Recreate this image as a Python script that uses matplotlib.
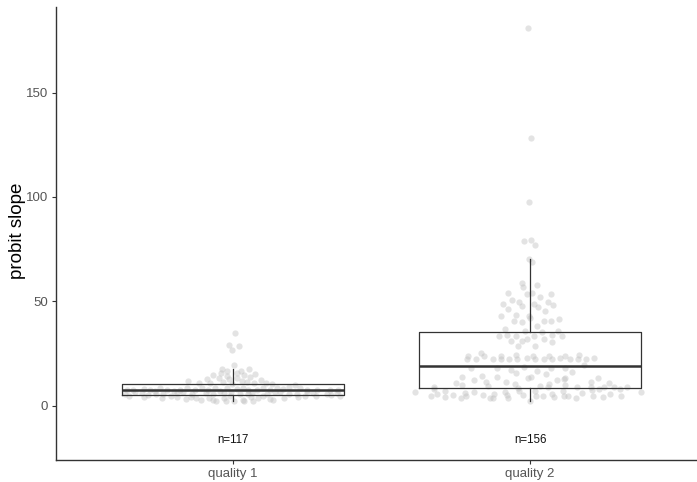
import numpy as np
import matplotlib
matplotlib.use("Agg")
import matplotlib.pyplot as plt

plt.rcParams['font.family'] = ['Liberation Sans', 'DejaVu Sans']

groups = ["quality 1", "quality 2"]

# quality 1: probit slope values and horizontal jitter
q1_slope = [34.8, 29.2, 28.7, 26.8, 19.4,
            17.6, 17.7, 16.4, 16.4, 14.8, 15.6, 15.6, 14.8, 15.1, 12.8, 13.2,
            12.8, 13.2, 13.7, 12.4, 10.9, 10.9, 11.2, 10.5, 11.5, 10.9, 10.4,
            11.8, 11.0, 14.2, 12.0,
            7.6, 7.3, 7.6, 6.9, 8.5, 7.6, 6.9, 7.6, 8.5, 7.3, 8.5, 7.6, 8.5, 6.9,
            8.5, 8.0, 8.5, 7.6, 7.3, 8.5, 7.6, 8.5, 8.0, 8.5, 7.6, 7.3, 7.6, 7.3,
            8.2, 9.0, 9.8,
            5.8, 6.1, 5.8, 6.1, 5.8, 6.1, 5.4, 6.4, 5.8, 6.1, 5.8, 6.4, 5.8, 6.1,
            5.8, 6.1, 5.1,
            6.5, 5.6, 6.6, 6.0, 5.5, 6.6, 5.4, 6.5, 5.3,
            3.8, 3.2, 3.5, 2.6, 2.9, 2.2, 3.5, 2.1, 2.1, 2.9, 2.3, 2.4, 3.5, 3.2,
            2.9, 4.2, 4.5, 4.1,
            4.8, 4.4, 4.6, 4.3, 3.9, 4.6, 4.0, 4.7, 3.6, 4.8, 4.5]
q1_jitter = [0.008, -0.015, 0.019, -0.003, 0.003,
             -0.038, 0.053, -0.021, 0.026, -0.066, -0.042, 0.012, 0.037, 0.075,
             -0.089, -0.048, -0.013, 0.015, 0.057, 0.093, -0.116, -0.078, -0.033,
             -0.002, 0.046, 0.072, 0.132,
             -0.15, 0.11, -0.02, 0.03,
             -0.358, -0.336, -0.28, -0.263, -0.246, -0.223, -0.199, -0.178, -0.154,
             -0.128, -0.106, -0.083, -0.061, -0.044, -0.021, 0.012, 0.032, 0.052,
             0.08, 0.102, 0.124, 0.147, 0.167, 0.226, 0.248, 0.282, 0.326, 0.355,
             -0.30, 0.19, 0.21,
             -0.364, -0.308, -0.235, -0.19, -0.139, -0.091, -0.068, -0.008, 0.023,
             0.063, 0.113, 0.158, 0.214, 0.27, 0.315, 0.349, -0.285,
             -0.33, -0.26, -0.17, -0.03, 0.05, 0.14, 0.19, 0.25, 0.33,
             -0.24, -0.158, -0.125, -0.109, -0.066, -0.057, -0.03, -0.024, 0.003,
             0.032, 0.037, 0.066, 0.085, 0.124, 0.136, 0.22, 0.243, -0.19,
             -0.35, -0.30, -0.21, -0.14, -0.08, -0.01, 0.06, 0.10, 0.17, 0.28, 0.36]

# quality 2
q2_slope = [181.0, 128.0, 97.5,
            79.0, 79.4, 77.0, 70.3, 69.0,
            58.7, 57.1, 57.9, 53.9, 53.6, 53.9, 53.6, 50.7, 49.9, 52.0, 49.9, 48.7,
            47.8, 48.8, 47.5, 48.3, 46.4, 45.5, 43.1, 43.5, 43.1, 42.0, 40.8, 40.2,
            40.8, 40.7, 41.5, 38.3,
            36.8, 35.6, 35.3, 35.6,
            33.2, 34.0, 33.2, 32.2, 33.2, 32.2, 34.0, 33.2,
            31.1, 31.1, 30.3, 28.7, 28.7,
            23.9, 22.3, 22.6, 25.2, 23.9, 22.6, 23.9, 22.3, 22.6, 24.4, 22.3, 23.1,
            23.9, 22.3, 22.6, 23.9, 22.6, 23.1, 23.9, 22.6, 22.6, 24.4, 22.6, 23.1,
            19.5,
            18.0, 17.2, 18.5, 16.7, 18.0, 17.9, 16.1,
            13.9, 14.3, 13.9, 15.6, 13.2, 14.0, 15.3, 13.5, 13.0,
            10.8, 9.9, 11.6, 9.6, 11.2, 10.5, 8.6, 9.6, 10.5, 10.0, 11.6, 13.5, 10.7,
            9.2, 7.9, 18.2,
            8.9, 8.9, 8.9, 8.9, 12.5, 12.2,
            6.7, 4.8, 5.4, 7.2, 4.1, 5.3, 3.7, 6.1, 4.5, 6.4, 5.1, 3.7, 5.7, 3.5,
            6.7, 5.1, 3.8, 7.0, 5.3, 2.5, 7.0, 4.9, 4.8, 5.7, 4.3, 7.2, 4.9, 4.6,
            3.7, 6.1, 9.2, 7.6, 4.8, 7.8, 4.1, 5.7, 7.9, 4.9, 9.2, 6.4]
q2_jitter = [-0.006, 0.003, -0.003,
             -0.019, 0.003, 0.018, -0.003, 0.006,
             -0.028, -0.023, 0.024, -0.074, -0.010, 0.006, 0.070, -0.062, -0.037,
             0.034, 0.062, -0.090, -0.026, 0.014, 0.026, 0.076, -0.074, 0.049,
             -0.099, -0.049, -0.002, 0.000, -0.054, -0.028, 0.048, 0.072, 0.098,
             0.023,
             -0.083, -0.016, 0.040, 0.095,
             -0.105, -0.077, -0.046, -0.010, 0.012, 0.047, 0.073, 0.106,
             -0.064, -0.028, 0.073, -0.040, 0.018,
             -0.210, -0.213, -0.183, -0.164, -0.154, -0.126, -0.099, -0.099, -0.072,
             -0.046, -0.043, -0.011, 0.009, 0.015, 0.046, 0.063, 0.074, 0.101,
             0.118, 0.134, 0.160, 0.166, 0.190, 0.215,
             0.180,
             -0.112, -0.064, -0.022, 0.023, 0.069, 0.117, 0.142,
             -0.229, -0.163, -0.111, -0.046, -0.008, 0.003, 0.053, 0.116, 0.114,
             -0.250, -0.229, -0.147, -0.141, -0.081, -0.050, -0.040, 0.034, 0.064,
             0.116, 0.205, 0.228, 0.266,
             -0.324, -0.322, -0.200,
             0.060, 0.157, 0.250, 0.284, -0.190, 0.090,
             -0.387, -0.333, -0.314, -0.286, -0.288, -0.258, -0.232, -0.218, -0.216,
             -0.188, -0.159, -0.135, -0.121, -0.126, -0.085, -0.077, -0.074, -0.038,
             -0.025, 0.001, 0.016, 0.020, 0.043, 0.074, 0.080, 0.110, 0.114, 0.129,
             0.153, 0.174, 0.205, 0.209, 0.211, 0.233, 0.247, 0.268, 0.304, 0.306,
             0.328, 0.373]

slopes = [q1_slope, q2_slope]
jitters = [q1_jitter, q2_jitter]

fig = plt.figure(figsize=(6.97, 4.82), dpi=100)
ax = fig.add_axes([0.0803, 0.0456, 0.9197, 0.94])

for i, (vals, jit) in enumerate(zip(slopes, jitters)):
    x = i + 1 + np.array(jit)
    ax.scatter(x, vals, s=20, color='#bdbdbd', alpha=0.42, linewidths=0, zorder=1)

ax.boxplot(slopes, positions=[1, 2], widths=0.75, whis=1.5, showfliers=False,
           showcaps=False,
           boxprops=dict(color='#333333', linewidth=0.9),
           whiskerprops=dict(color='#333333', linewidth=0.9),
           medianprops=dict(color='#333333', linewidth=1.8),
           zorder=2)

for i, vals in enumerate(slopes):
    ax.text(i + 1, -16.5, "n=%d" % len(vals), ha='center', va='center',
            fontsize=8.3, color='#111111')

ax.set_xlim(0.404, 2.562)
ax.set_ylim(-26, 191)
ax.set_xticks([1, 2])
ax.set_xticklabels(groups)
ax.set_yticks([0, 50, 100, 150])
ax.set_ylabel("probit slope", fontsize=13.5, color='black')
ax.yaxis.set_label_coords(-0.046, 0.505)

for s in ['top', 'right']:
    ax.spines[s].set_visible(False)
for s in ['left', 'bottom']:
    ax.spines[s].set_color('#333333')
    ax.spines[s].set_linewidth(1.0)
ax.tick_params(axis='both', colors='#333333', labelcolor='#555555',
               labelsize=9.5, length=3, width=0.8, pad=2.5)

fig.savefig("out.png", dpi=100)
